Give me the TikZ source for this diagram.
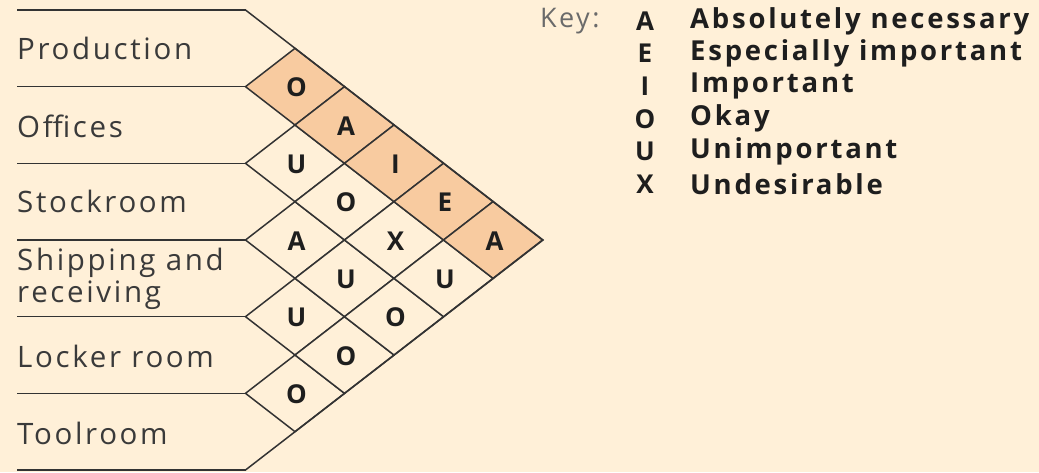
\documentclass[tikz,border=0pt]{standalone}
\usepackage{fontspec}
\setmainfont{Open Sans}[LetterSpace=9]
\newfontfamily\keyfamily{Open Sans}[LetterSpace=10]
\definecolor{bgc}{HTML}{FFF0D8}
\definecolor{hl}{HTML}{F8CBA0}
\definecolor{wh}{HTML}{FFF0D8}
\definecolor{linec}{HTML}{333333}
\definecolor{labc}{HTML}{3A3A3A}
\definecolor{keyc}{HTML}{6A6A6A}
\definecolor{txtc}{HTML}{1E1E1E}
\begin{document}
\begin{tikzpicture}[x=1pt,y=-1pt,
  grid/.style={draw=linec, line width=1.5pt, line join=miter},
  lbl/.style={anchor=west, inner sep=0pt, font=\fontsize{29.5}{32}\selectfont, text=labc, align=left},
  cell/.style={inner sep=0pt, font=\bfseries\fontsize{26}{26}\selectfont, text=txtc},
  keyhead/.style={anchor=west, inner sep=0pt, font=\fontsize{27}{27}\selectfont, text=keyc},
  keyletter/.style={inner sep=0pt, font=\bfseries\fontsize{26}{26}\selectfont, text=txtc},
  keytext/.style={anchor=west, inner sep=0pt, font=\keyfamily\bfseries\fontsize{27.5}{27}\selectfont, text=txtc}]
\fill[bgc] (0,0) rectangle (1039,472);
\useasboundingbox (0,0) rectangle (1039,472);
\def\hw{49.5}
\def\hh{38.333}
% row lines
\foreach \k in {0,...,6}{
  \draw[grid] (17,{10+76.667*\k}) -- (245.5,{10+76.667*\k});
}
% diamonds
\foreach \c/\j/\t/\f in {1/0/O/hl,1/1/U/wh,1/2/A/wh,1/3/U/wh,1/4/O/wh,
                          2/0/A/hl,2/1/O/wh,2/2/U/wh,2/3/O/wh,
                          3/0/I/hl,3/1/X/wh,3/2/O/wh,
                          4/0/E/hl,4/1/U/wh,
                          5/0/A/hl}{
  \pgfmathsetmacro\cx{245.5+\hw*\c}
  \pgfmathsetmacro\cy{10+\hh*(\c+1)+2*\hh*\j}
  \draw[grid, fill=\f] (\cx-\hw,\cy) -- (\cx,\cy-\hh) -- (\cx+\hw,\cy) -- (\cx,\cy+\hh) -- cycle;
  \node[cell] (d\c\j) at (\cx+1.5,\cy+1) {\t};
}
% outer boundary
\draw[grid] (245.5,10) -- (543,240) -- (245.5,470);
% labels
\node[lbl] (production) at (17,48.5) {Production};
\node[lbl] (offices) at (17,126) {Offices};
\node[lbl] (stockroom) at (17,201.5) {Stockroom};
\node[lbl] (shipping) at (17,279) {Shipping and\\receiving};
\node[lbl] (locker) at (17,356) {Locker room};
\node[lbl] (toolroom) at (17,433) {Toolroom};
% key
\node[keyhead] (key) at (540,21) {Key:};
\foreach \i/\l/\d in {0/A/Absolutely necessary,1/E/Especially important,2/I/Important,3/O/Okay,4/U/Unimportant,5/X/Undesirable}{
  \node[keyletter] (kl\i) at (645,{21+32.6*\i}) {\l};
  \node[keytext] (kt\i) at (690,{21+32.6*\i}) {\d};
}
\end{tikzpicture}
\end{document}
